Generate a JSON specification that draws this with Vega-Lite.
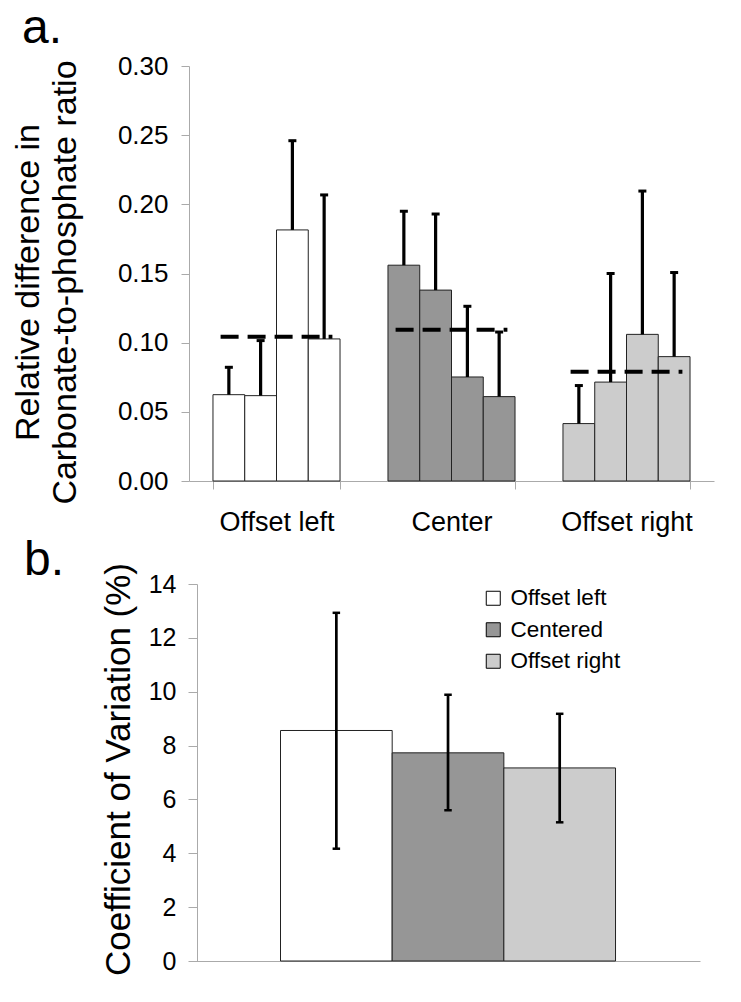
{
  "$schema": "https://vega.github.io/schema/vega-lite/v6.json",
  "background": "white",
  "padding": {"left": 11, "top": 5, "right": 5, "bottom": 5},
  "datasets": {
    "top": [
      {"group": "Offset left", "rep": "1", "value": 0.0624, "upper": 0.0822},
      {"group": "Offset left", "rep": "2", "value": 0.0617, "upper": 0.1015},
      {"group": "Offset left", "rep": "3", "value": 0.1815, "upper": 0.2460},
      {"group": "Offset left", "rep": "4", "value": 0.1027, "upper": 0.2068},
      {"group": "Center", "rep": "1", "value": 0.1560, "upper": 0.1950},
      {"group": "Center", "rep": "2", "value": 0.1380, "upper": 0.1930},
      {"group": "Center", "rep": "3", "value": 0.0752, "upper": 0.1263},
      {"group": "Center", "rep": "4", "value": 0.0610, "upper": 0.1077},
      {"group": "Offset right", "rep": "1", "value": 0.0415, "upper": 0.0690},
      {"group": "Offset right", "rep": "2", "value": 0.0715, "upper": 0.1500},
      {"group": "Offset right", "rep": "3", "value": 0.1060, "upper": 0.2096},
      {"group": "Offset right", "rep": "4", "value": 0.0899, "upper": 0.1507}
    ],
    "topMean": [
      {"group": "Offset left", "mean": 0.1043},
      {"group": "Center", "mean": 0.1094},
      {"group": "Offset right", "mean": 0.0790}
    ],
    "bottom": [
      {"cond": "Offset left", "value": 8.56, "lower": 4.17, "upper": 12.93},
      {"cond": "Centered", "value": 7.73, "lower": 5.60, "upper": 9.89},
      {"cond": "Offset right", "value": 7.17, "lower": 5.15, "upper": 9.18}
    ]
  },
  "vconcat": [
    {
      "width": 525,
      "height": 415,
      "title": {"text": "a.", "anchor": "start", "frame": "group", "dx": -167, "fontSize": 48, "font": "Liberation Sans", "fontWeight": "normal", "baseline": "alphabetic", "offset": -38, "color": "black"},
      "layer": [
        {
          "data": {"name": "top"},
          "mark": {"type": "bar", "stroke": "#222222", "strokeWidth": 1, "opacity": 1},
          "encoding": {
            "x": {"field": "group", "type": "nominal", "sort": ["Offset left", "Center", "Offset right"],
              "scale": {"paddingInner": 0.274, "paddingOuter": 0.137},
              "axis": {"title": null, "labelAngle": 0, "labelFontSize": 27, "labelPadding": 20, "tickSize": 8, "tickBand": "extent", "domainColor": "#aaaaaa", "tickColor": "#aaaaaa", "labelColor": "black", "labelFont": "Liberation Sans"}},
            "xOffset": {"field": "rep", "type": "nominal", "scale": {"paddingInner": 0, "paddingOuter": 0}},
            "y": {"field": "value", "type": "quantitative", "scale": {"domain": [0, 0.3], "nice": false},
              "axis": {"title": ["Relative difference in", "Carbonate-to-phosphate ratio"], "titleFontSize": 34, "titleLineHeight": 37, "titlePadding": 35, "titleY": 216, "titleFont": "Liberation Sans", "titleFontWeight": "normal", "titleColor": "black",
                "values": [0, 0.05, 0.1, 0.15, 0.2, 0.25, 0.3], "format": ".2f", "labelFontSize": 26, "labelPadding": 13, "tickSize": 8, "grid": false, "domainColor": "#aaaaaa", "tickColor": "#aaaaaa", "labelColor": "black", "labelFont": "Liberation Sans"}},
            "fill": {"field": "group", "type": "nominal", "scale": {"domain": ["Offset left", "Center", "Offset right"], "range": ["#ffffff", "#969696", "#cccccc"]}, "legend": null}
          }
        },
        {
          "data": {"name": "topMean"},
          "mark": {"type": "rule", "strokeDash": [18, 9], "strokeWidth": 4, "color": "black"},
          "encoding": {
            "x": {"field": "group", "type": "nominal", "sort": ["Offset left", "Center", "Offset right"], "bandPosition": 0.06},
            "x2": {"field": "group", "bandPosition": 0.94},
            "y": {"field": "mean", "type": "quantitative"}
          }
        },
        {
          "data": {"name": "top"},
          "mark": {"type": "rule", "strokeWidth": 3.2, "color": "black"},
          "encoding": {
            "x": {"field": "group", "type": "nominal", "sort": ["Offset left", "Center", "Offset right"]},
            "xOffset": {"field": "rep", "type": "nominal"},
            "y": {"field": "value", "type": "quantitative"},
            "y2": {"field": "upper"}
          }
        },
        {
          "data": {"name": "top"},
          "mark": {"type": "tick", "thickness": 3, "size": 8, "color": "black", "opacity": 1},
          "encoding": {
            "x": {"field": "group", "type": "nominal", "sort": ["Offset left", "Center", "Offset right"]},
            "xOffset": {"field": "rep", "type": "nominal"},
            "y": {"field": "upper", "type": "quantitative"}
          }
        }
      ]
    },
    {
      "width": 511,
      "height": 377,
      "title": {"text": "b.", "anchor": "start", "frame": "group", "dx": -165, "fontSize": 48, "font": "Liberation Sans", "fontWeight": "normal", "baseline": "alphabetic", "offset": -61, "color": "black"},
      "layer": [
        {
          "data": {"name": "bottom"},
          "mark": {"type": "bar", "stroke": "#222222", "strokeWidth": 1, "opacity": 1},
          "encoding": {
            "x": {"field": "cond", "type": "nominal", "sort": ["Offset left", "Centered", "Offset right"],
              "scale": {"paddingInner": 0, "paddingOuter": 0.788, "align": 0.52},
              "axis": {"title": null, "labels": false, "ticks": false, "domainColor": "#aaaaaa"}},
            "y": {"field": "value", "type": "quantitative", "scale": {"domain": [0, 14], "nice": false},
              "axis": {"title": "Coefficient of Variation (%)", "titleFontSize": 35, "titlePadding": 12, "titleY": 185, "titleFont": "Liberation Sans", "titleFontWeight": "normal", "titleColor": "black", "offset": -8,
                "values": [0, 2, 4, 6, 8, 10, 12, 14], "format": "d", "labelFontSize": 25, "labelPadding": 12, "tickSize": 9, "grid": false, "domainColor": "#aaaaaa", "tickColor": "#aaaaaa", "labelColor": "black", "labelFont": "Liberation Sans"}},
            "fill": {"field": "cond", "type": "nominal", "sort": ["Offset left", "Centered", "Offset right"],
              "scale": {"domain": ["Offset left", "Centered", "Offset right"], "range": ["#ffffff", "#969696", "#cccccc"]},
              "legend": {"orient": "none", "legendX": 293, "legendY": 3, "title": null, "symbolType": "square", "symbolSize": 196, "symbolStrokeColor": "black", "symbolStrokeWidth": 1, "labelFontSize": 22.5, "labelFont": "Liberation Sans", "labelColor": "black", "rowPadding": 8.5, "labelOffset": 6, "padding": 0}}
          }
        },
        {
          "data": {"name": "bottom"},
          "mark": {"type": "rule", "strokeWidth": 2.7, "color": "black"},
          "encoding": {
            "x": {"field": "cond", "type": "nominal", "sort": ["Offset left", "Centered", "Offset right"]},
            "y": {"field": "lower", "type": "quantitative"},
            "y2": {"field": "upper"}
          }
        },
        {
          "data": {"name": "bottom"},
          "mark": {"type": "tick", "thickness": 2.5, "size": 7.5, "color": "black", "opacity": 1},
          "encoding": {
            "x": {"field": "cond", "type": "nominal", "sort": ["Offset left", "Centered", "Offset right"]},
            "y": {"field": "upper", "type": "quantitative"}
          }
        },
        {
          "data": {"name": "bottom"},
          "mark": {"type": "tick", "thickness": 2.5, "size": 7.5, "color": "black", "opacity": 1},
          "encoding": {
            "x": {"field": "cond", "type": "nominal", "sort": ["Offset left", "Centered", "Offset right"]},
            "y": {"field": "lower", "type": "quantitative"}
          }
        }
      ]
    }
  ],
  "bounds": "flush",
  "spacing": 103,
  "resolve": {"scale": {"x": "independent", "y": "independent", "fill": "independent", "xOffset": "independent"}},
  "config": {
    "view": {"stroke": null},
    "font": "Liberation Sans"
  }
}
